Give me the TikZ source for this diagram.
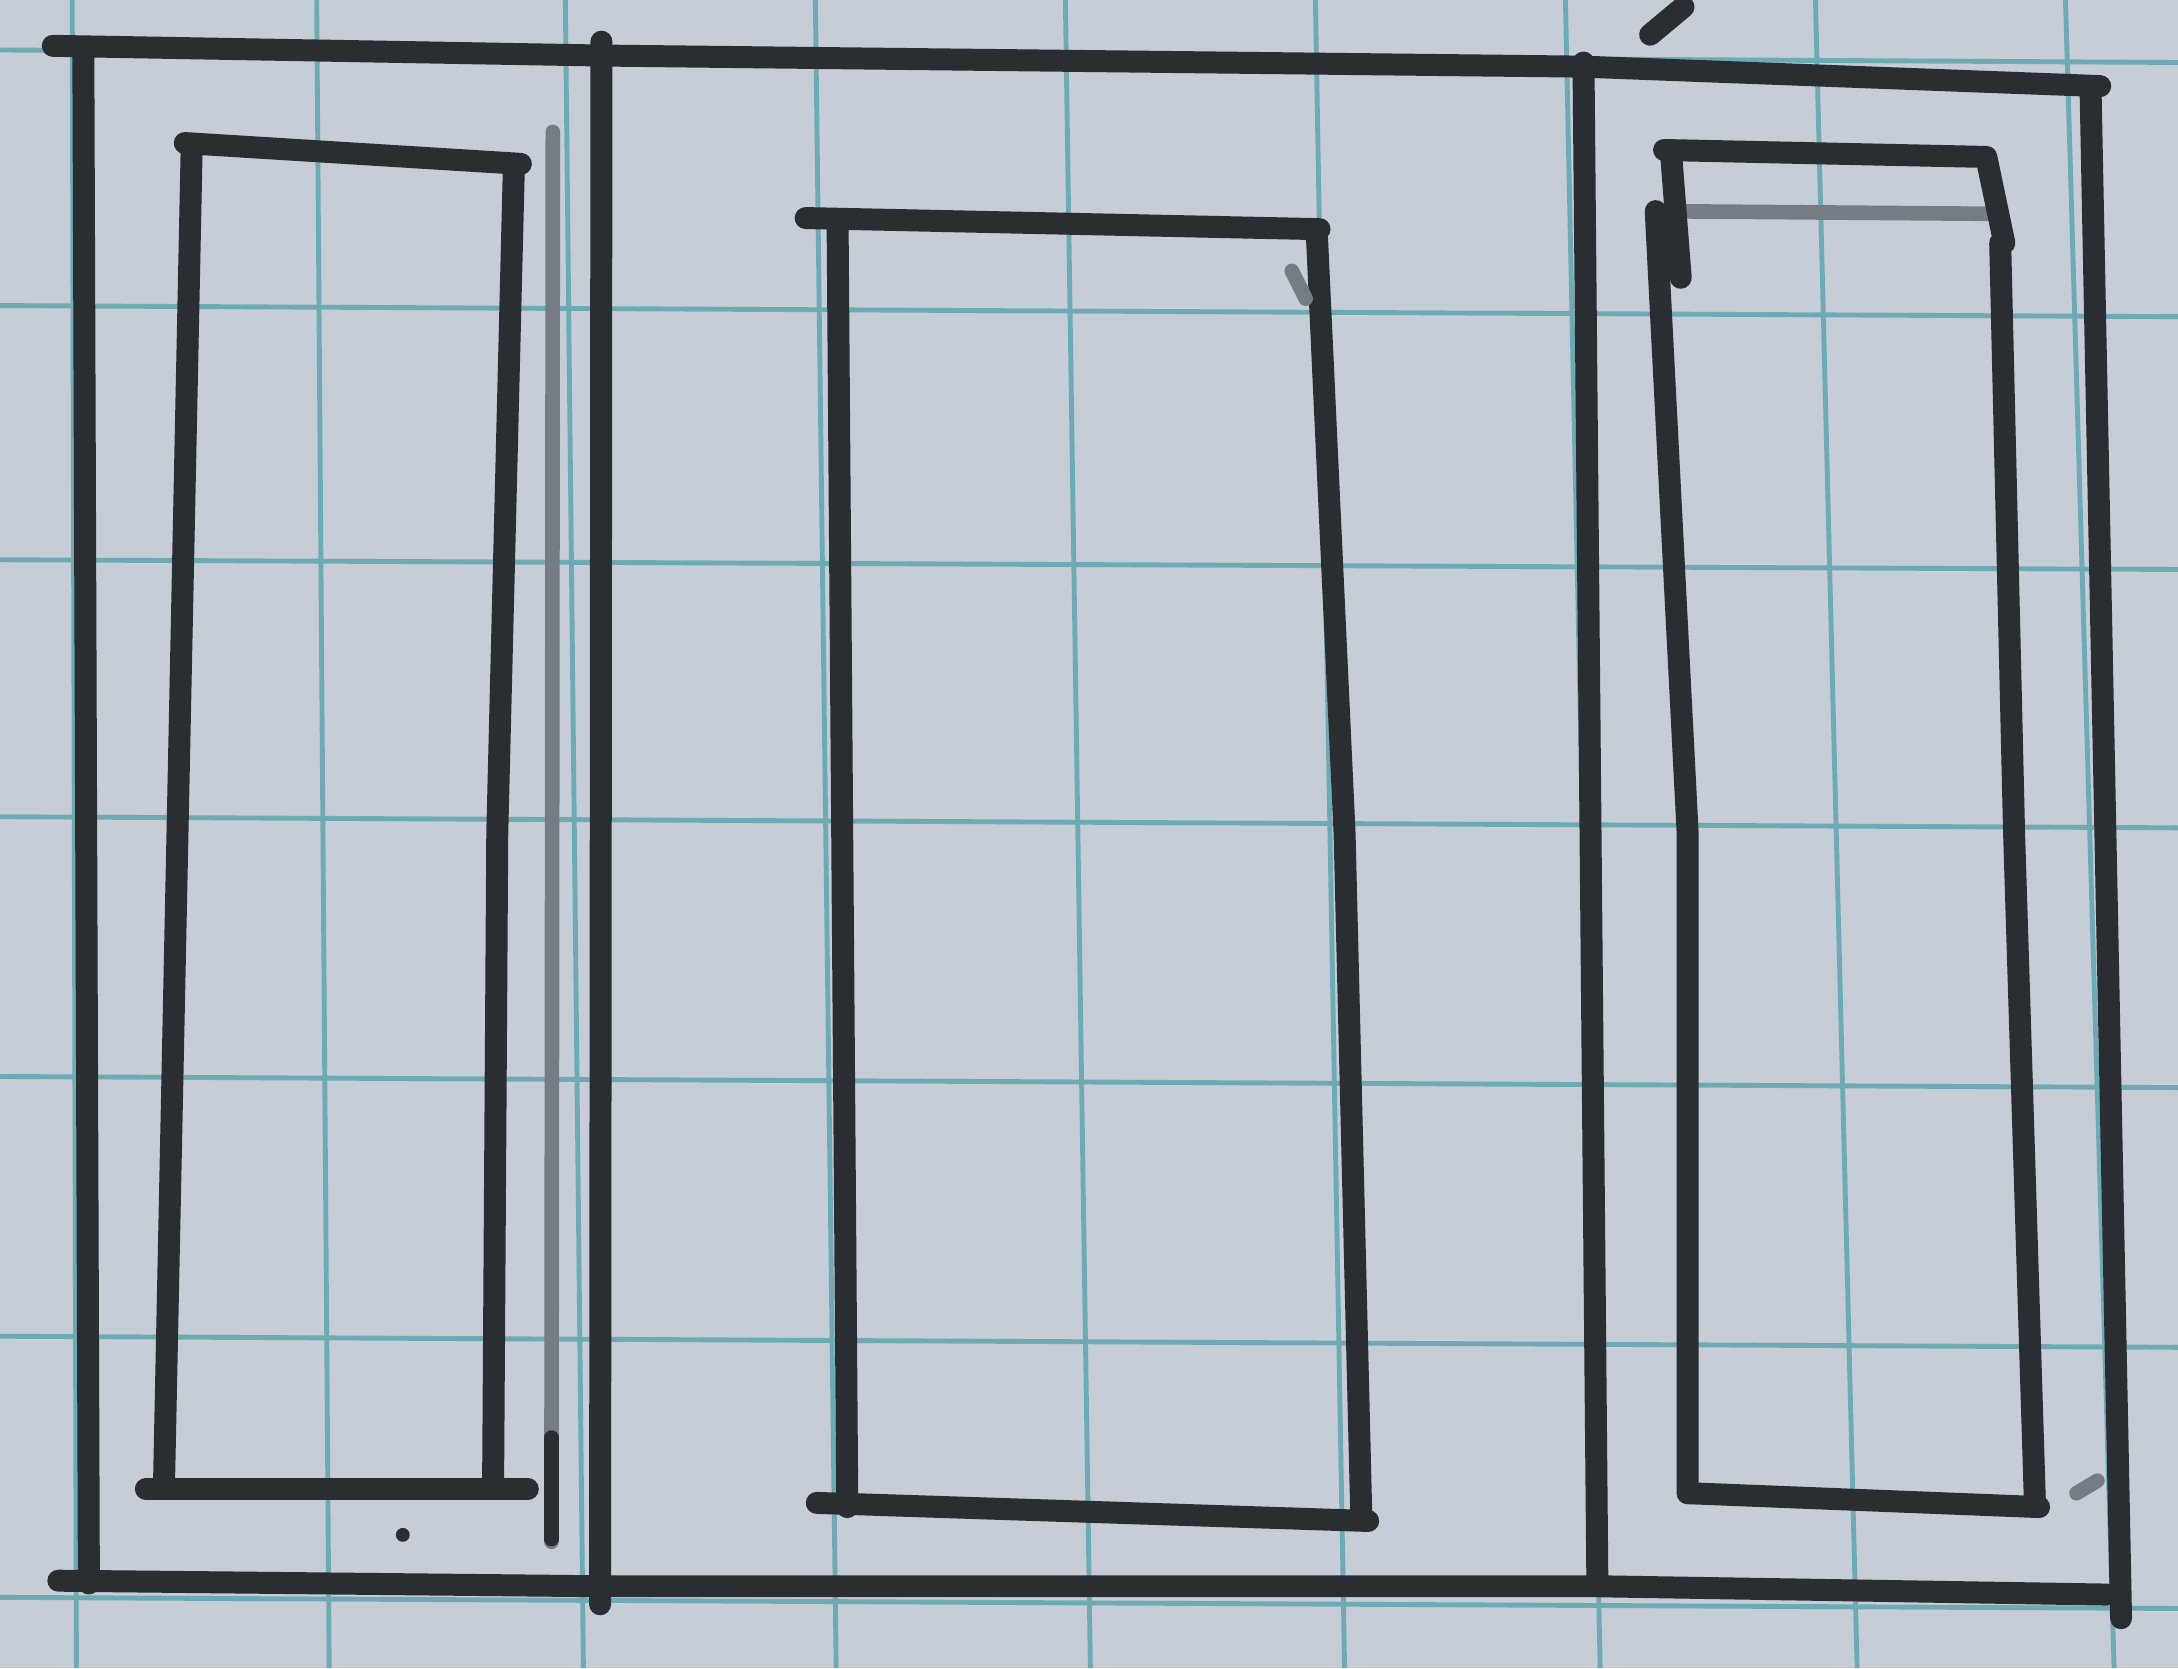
\documentclass[tikz,border=0pt]{standalone}
\usetikzlibrary{calc}
\definecolor{paper}{RGB}{198,205,215}
\definecolor{gridc}{RGB}{110,170,180}
\definecolor{ink}{RGB}{42,45,50}
\definecolor{inkl}{RGB}{118,124,132}
\newcommand{\PW}{1568}
\newcommand{\PH}{1201}

\begin{document}
\begin{tikzpicture}[x=0.01cm, y=-0.01cm,
    pen/.style={draw=ink, line width=4.5pt, line cap=round, line join=round},
    faint/.style={draw=inkl, line width=3pt, line cap=round},
    rule/.style={draw=gridc, line width=1pt},
  ]
  \fill[paper] (0,0) rectangle (\PW,\PH);
  \useasboundingbox (0,0) rectangle (\PW,\PH);

  %% ================= grid paper =================
  \foreach \a/\b in {52/55, 228/237, 407/420, 587/602, 767/785, 947/968, 1127/1152, 1307/1337, 1487/1522} {
    \draw[rule] (\a,0) -- (\b,\PH);
  }
  \foreach \a/\b in {36/45, 220/228, 403/410, 588/596, 775/783, 962/970, 1150/1158} {
    \draw[rule] (0,\a) -- (\PW,\b);
  }

  %% ================= outer frame and the two dividers =================
  \draw[pen] (38,33) -- (433,40) -- (1140,48) -- (1512,62);
  \draw[pen] (60,38) -- (64,1140);
  \draw[pen] (42,1138) -- (432,1142) -- (1150,1142) -- (1517,1148);
  \draw[pen] (1505,62) -- (1527,1165);
  \draw[pen] (433,30) -- (432,1155);
  \draw[pen] (1140,45) -- (1150,1140);
  % pale stroke beside the first divider, darker at its foot
  \draw[faint] (398,95) -- (397,1110);
  \draw[pen, line width=3pt] (397,1035) -- (397,1108);

  %% ================= left box =================
  \draw[pen] (133,103) -- (375,118);
  \draw[pen] (138,106) -- (118,1072);
  \draw[pen] (370,118) -- (358,600) -- (355,1068);
  \draw[pen] (105,1072) -- (380,1072);

  %% ================= middle box =================
  \draw[pen] (580,157) -- (950,165);
  \draw[pen] (603,160) -- (610,1085);
  \draw[pen] (948,168) -- (968,600) -- (980,1090);
  \draw[pen] (588,1082) -- (985,1095);
  \draw[faint] (930,195) -- (940,215);

  %% ================= right box =================
  \draw[faint] (1190,152) -- (1440,154);
  \draw[pen] (1198,108) -- (1430,113) -- (1443,175);
  \draw[pen] (1203,110) -- (1210,200);
  \draw[pen] (1192,152) -- (1215,600) -- (1215,1075);
  \draw[pen] (1440,175) -- (1450,600) -- (1465,1082);
  \draw[pen] (1215,1075) -- (1468,1085);

  %% ================= stray marks =================
  \draw[pen] (1188,25) -- (1212,5);
  \draw[faint] (1495,1075) -- (1510,1066);
  \fill[ink] (290,1105) circle (5);
\end{tikzpicture}
\end{document}
